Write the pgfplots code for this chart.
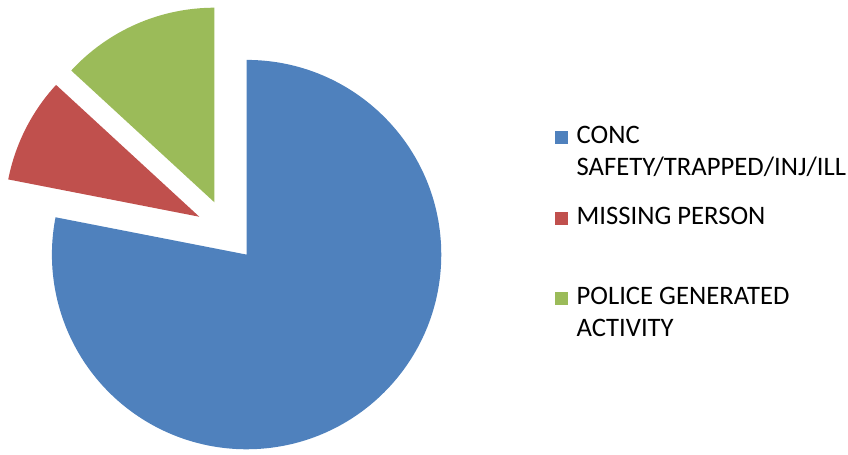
\documentclass[border=0pt]{standalone}
\usepackage{pgfplots}
\pgfplotsset{compat=1.18}
\usepackage{pgfplotstable}
\usepackage{fontspec}
\setmainfont{Carlito}

\definecolor{pieblue}{HTML}{4F81BD}
\definecolor{piered}{HTML}{C0504D}
\definecolor{piegreen}{HTML}{9BBB59}

% counts per call type, clockwise from 12 o'clock
\pgfplotstableread{
value
89
10
15
}\piedata

% pie centre, radius and explosion, in pt (1 axis unit = 1pt)
\def\cx{227.3}
\def\cy{223.9}
\def\R{195}
\def\E{31}

\newcommand\slice[3]{%
  \pgfmathsetmacro\midang{(#1+#2)/2}%
  \pgfmathsetmacro\vx{\cx+\E*cos(\midang)}%
  \pgfmathsetmacro\vy{\cy+\E*sin(\midang)}%
  \edef\temp{\noexpand\fill[#3] (axis cs:\vx,\vy) -- ++(#1:\R pt)
    arc[start angle=#1, end angle=#2, radius=\R pt] -- cycle;}%
  \temp}

% two-line legend text, baseline on the first line
\newcommand\entry[2]{\vtop{\baselineskip=32pt
  \hbox{\rule{0pt}{20pt}#1}\hbox{\rule[-8pt]{0pt}{8pt}#2}}}

\begin{document}
\begin{tikzpicture}
\pgfplotstablegetelem{0}{value}\of\piedata \let\va\pgfplotsretval
\pgfplotstablegetelem{1}{value}\of\piedata \let\vb\pgfplotsretval
\pgfplotstablegetelem{2}{value}\of\piedata \let\vc\pgfplotsretval
\pgfmathsetmacro\tot{\va+\vb+\vc}
\pgfmathsetmacro\aA{90}
\pgfmathsetmacro\aB{\aA-360*(\va/\tot)}
\pgfmathsetmacro\aC{\aB-360*(\vb/\tot)}
\pgfmathsetmacro\aD{\aC-360*(\vc/\tot)}
\begin{axis}[
  scale only axis, width=848pt, height=455pt,
  xmin=0, xmax=848, ymin=0, ymax=455,
  hide axis, clip=false,
  legend style={draw=none, fill=none, inner sep=0pt,
    at={(axis cs:556,333)}, anchor=north west,
    font=\fontsize{26.7}{32}\selectfont,
    row sep=55pt, column sep=7pt,
    cells={anchor=base west, inner sep=0pt}},
]
\path (axis cs:0,0) rectangle (axis cs:848,455);
\slice{\aA}{\aB}{pieblue}
\slice{\aB}{\aC}{piered}
\slice{\aC}{\aD}{piegreen}

\addlegendimage{legend image code/.code={\fill[pieblue] (0pt,0.5pt) rectangle (12pt,12.5pt);}}
\addlegendentry{\entry{CONC}{SAFETY/TRAPPED/INJ/ILL}}
\addlegendimage{legend image code/.code={\fill[piered] (0pt,0.5pt) rectangle (12pt,12.5pt);}}
\addlegendentry{\entry{MISSING PERSON}{}}
\addlegendimage{legend image code/.code={\fill[piegreen] (0pt,0.5pt) rectangle (12pt,12.5pt);}}
\addlegendentry{\entry{POLICE GENERATED}{ACTIVITY}}
\end{axis}
\end{tikzpicture}
\end{document}
